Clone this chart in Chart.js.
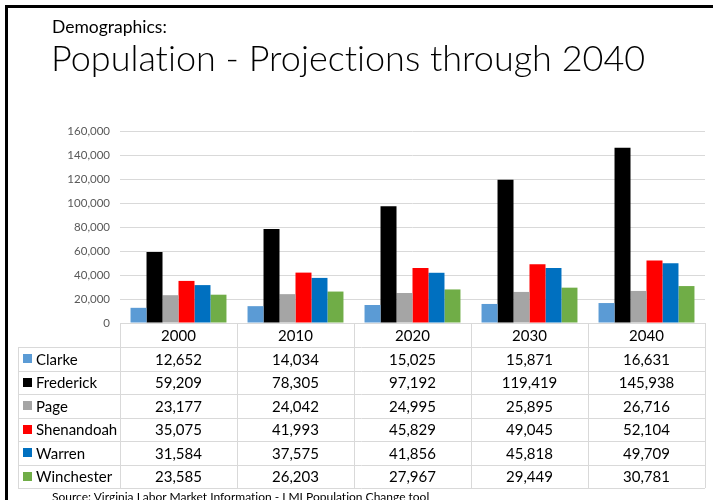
<!DOCTYPE html>
<html>
<head>
<meta charset="utf-8">
<script src="https://cdn.jsdelivr.net/npm/chart.js@4.4.1/dist/chart.umd.min.js"></script>
<style>
body { margin: 0; background: #fff; }
#wrap { position: relative; width: 713px; height: 500px; overflow: hidden; }
#frame { position: absolute; left: 5px; top: 5px; width: 730px; height: 530px; border-top: 3px solid #000; border-left: 3px solid #000; }
#wrap div { font-variant-ligatures: none; font-feature-settings: "liga" 0; white-space: nowrap; color: #000; }
#kicker { position: absolute; left: 52px; top: 16px; font: 17.5px Lato; }
#title { position: absolute; left: 51px; top: 34.5px; font: 300 36px Lato; }
#source { position: absolute; left: 52px; top: 489px; font: 12px Lato; }
canvas { position: absolute; left: 0; top: 0; }
</style>
</head>
<body>
<div id="wrap">
  <canvas id="chart" width="713" height="500"></canvas>
  <div id="frame"></div>
  <div id="kicker">Demographics:</div>
  <div id="title">Population - Projections through 2040</div>
  <div id="source">Source: Virginia Labor Market Information - LMI Population Change tool</div>
</div>
<script>
// years along the x axis
const years = ['2000', '2010', '2020', '2030', '2040'];
const counties = ['Clarke', 'Frederick', 'Page', 'Shenandoah', 'Warren', 'Winchester'];

// population per county, one value per year
const clarke = [12652, 14034, 15025, 15871, 16631];
const frederick = [59209, 78305, 97192, 119419, 145938];
const page = [23177, 24042, 24995, 25895, 26716];
const shenandoah = [35075, 41993, 45829, 49045, 52104];
const warren = [31584, 37575, 41856, 45818, 49709];
const winchester = [23585, 26203, 27967, 29449, 30781];

const yTicks = [0, 20000, 40000, 60000, 80000, 100000, 120000, 140000, 160000];

const series = [clarke, frederick, page, shenandoah, warren, winchester];
const colors = ['#5b9bd5', '#000000', '#a5a5a5', '#ff0000', '#0070c0', '#70ad47'];

// data table under the plot, lined up with the category columns
const dataTable = {
    id: 'dataTable',
    afterDraw(chart) {
        const ctx = chart.ctx;
        const xs = chart.scales.x;
        const top = chart.chartArea.bottom;
        const headH = 24;
        const rowH = 23.5;
        const labelLeft = 18;
        const colW = (xs.right - xs.left) / years.length;
        const bottom = top + headH + rowH * counties.length;
        const px = v => Math.round(v) + 0.5;

        ctx.save();
        ctx.strokeStyle = '#d9d9d9';
        ctx.lineWidth = 1;
        ctx.beginPath();
        for (let i = 0; i <= years.length; i++) {
            const x = px(xs.left + i * colW);
            ctx.moveTo(x, top);
            ctx.lineTo(x, bottom);
        }
        ctx.moveTo(px(labelLeft), top + headH);
        ctx.lineTo(px(labelLeft), bottom);
        for (let r = 0; r <= counties.length; r++) {
            const y = px(top + headH + r * rowH);
            ctx.moveTo(labelLeft, y);
            ctx.lineTo(xs.right, y);
        }
        ctx.stroke();

        ctx.fillStyle = '#000';
        ctx.font = '15px Lato';
        ctx.textBaseline = 'middle';
        ctx.textAlign = 'center';
        years.forEach((yr, i) => {
            ctx.fillText(yr, xs.getPixelForValue(i), top + headH / 2 + 1);
        });
        counties.forEach((name, r) => {
            const cy = top + headH + r * rowH + rowH / 2;
            ctx.fillStyle = colors[r];
            ctx.fillRect(23, Math.round(cy - 4.5), 9, 9);
            ctx.fillStyle = '#000';
            ctx.textAlign = 'left';
            ctx.fillText(name, 36, cy + 1);
            ctx.textAlign = 'center';
            series[r].forEach((v, i) => {
                ctx.fillText(v.toLocaleString('en-US'), xs.getPixelForValue(i), cy + 1);
            });
        });
        ctx.restore();
    }
};

const config = {
    type: 'bar',
    data: {
        labels: years,
        datasets: counties.map((name, i) => ({
            label: name,
            data: series[i],
            backgroundColor: colors[i],
            borderWidth: 0,
            categoryPercentage: 0.82,
            barPercentage: 1.0
        }))
    },
    options: {
        responsive: false,
        animation: false,
        layout: { padding: { left: 60, right: 8, top: 131, bottom: 177 } },
        plugins: {
            legend: { display: false },
            tooltip: { enabled: false },
            title: { display: false }
        },
        scales: {
            x: {
                grid: { display: false },
                ticks: { display: false },
                border: { display: true, color: '#d9d9d9', width: 1 },
                afterFit: s => { s.height = 0; }
            },
            y: {
                min: 0,
                max: 160000,
                afterFit: s => { s.width = 60; },
                afterBuildTicks: s => { s.ticks = yTicks.map(v => ({ value: v })); },
                grid: { color: '#d9d9d9', drawTicks: false },
                border: { display: false },
                ticks: {
                    padding: 10,
                    color: '#595959',
                    font: { family: 'Lato', size: 11.5 },
                    callback: v => v.toLocaleString('en-US')
                }
            }
        }
    },
    plugins: [dataTable]
};

new Chart(document.getElementById('chart'), config);
</script>
</body>
</html>
